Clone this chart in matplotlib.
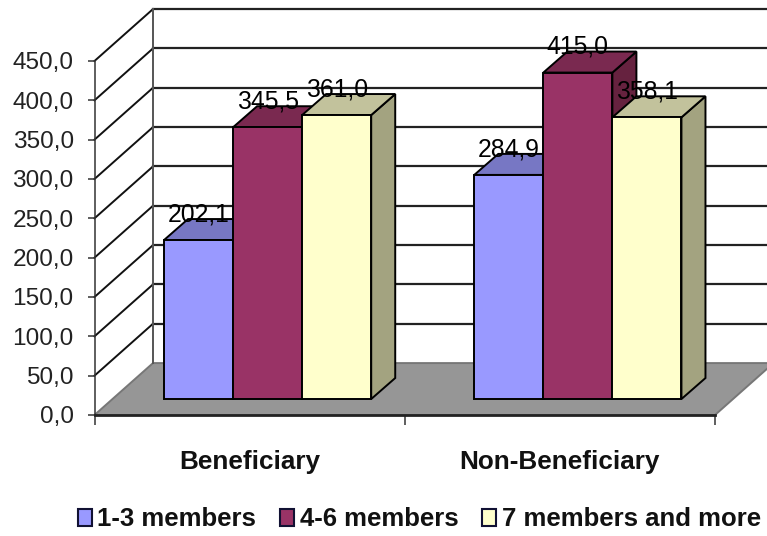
import matplotlib
matplotlib.use("Agg")
import matplotlib.pyplot as plt
from matplotlib.patches import Patch, Polygon

plt.rcParams['font.family'] = ['Liberation Sans', 'DejaVu Sans']

groups = ['Beneficiary', 'Non-Beneficiary']
series = ['1-3 members', '4-6 members', '7 members and more']
beneficiary = [202.1, 345.5, 361.0]
non_beneficiary = [284.9, 415.0, 358.1]
y_ticks = [0, 50, 100, 150, 200, 250, 300, 350, 400, 450]

front = ['#9999FF', '#993366', '#FFFFCC']
top = ['#7777C4', '#7A2950', '#C2C29C']
side = ['#66669F', '#66223F', '#A3A380']

W, H = 767, 536
fig = plt.figure(figsize=(W / 100, H / 100), dpi=100)
ax = fig.add_axes([94.5 / W, (H - 415) / H, 620.5 / W, 354 / H])
ax.set_xlim(0, 2)
ax.set_ylim(0, 450)
ax.patch.set_visible(False)

# oblique offsets of the chart box and of the bars, in axis units
wall_dx, wall_dy = 0.1885, 66
bar_dx, bar_dy = 0.0774, 26.7
shift_x, shift_y = 0.058, 20.3
bar_w = 0.2226


def poly(pts, fc, ec='black', lw=1.4, z=2):
    ax.add_patch(Polygon(pts, closed=True, fc=fc, ec=ec, lw=lw, zorder=z,
                         clip_on=False, joinstyle='miter'))


# floor
poly([(0, 0), (2, 0), (2 + wall_dx, wall_dy), (wall_dx, wall_dy)], '#969696', ec='#777777', z=1)

# walls and gridlines
for v in y_ticks:
    if v > 0:
        ax.plot([0, wall_dx], [v, v + wall_dy], color='#111111', lw=1.4, clip_on=False, zorder=1)
        ax.plot([wall_dx, 2 + wall_dx], [v + wall_dy] * 2, color='#222222', lw=1.6, clip_on=False, zorder=1)
ax.plot([wall_dx, wall_dx], [wall_dy, 450 + wall_dy], color='#555555', lw=1.4, clip_on=False, zorder=1)

# bars, left to right so neighbours overlap properly
z = 3
for g, vals in enumerate([beneficiary, non_beneficiary]):
    for j, v in enumerate(vals):
        x0 = g + 0.5 + (j - 1.5) * bar_w + shift_x
        x1 = x0 + bar_w
        y0 = shift_y
        y1 = shift_y + v
        poly([(x1, y0), (x1 + bar_dx, y0 + bar_dy), (x1 + bar_dx, y1 + bar_dy), (x1, y1)], side[j], z=z)
        poly([(x0, y1), (x1, y1), (x1 + bar_dx, y1 + bar_dy), (x0 + bar_dx, y1 + bar_dy)], top[j], z=z)
        poly([(x0, y0), (x1, y0), (x1, y1), (x0, y1)], front[j], z=z)
        z += 1

for g, vals in enumerate([beneficiary, non_beneficiary]):
    for j, v in enumerate(vals):
        xc = g + 0.5 + (j - 1) * bar_w + shift_x
        ax.annotate(f'{v:.1f}'.replace('.', ','), (xc, shift_y + v), xytext=(0, 18.5),
                    textcoords='offset points', ha='center', va='center',
                    fontsize=17.8, color='black', zorder=50)

for s in ['top', 'right']:
    ax.spines[s].set_visible(False)
ax.spines['left'].set_linewidth(1.1)
ax.spines['left'].set_color('#333333')
ax.spines['bottom'].set_linewidth(2)
ax.spines['bottom'].set_color('#222222')
ax.spines['bottom'].set_zorder(2.5)

ax.set_yticks(y_ticks)
ax.set_yticklabels([f'{v:.1f}'.replace('.', ',') for v in y_ticks], fontsize=17.6, color='#222222')
ax.tick_params(axis='y', length=5, width=1.1, pad=10, color='#333333')
ax.set_xticks([0, 1, 2])
ax.set_xticklabels([])
ax.tick_params(axis='x', which='major', length=7.5, width=1.1, color='#333333')
ax.set_xticks([0.5, 1.5], minor=True)
ax.set_xticklabels(groups, minor=True, fontsize=18.8, fontweight='bold', color='#111111')
ax.tick_params(axis='x', which='minor', length=0, pad=25)

handles = [Patch(fc=front[i], ec='#111133', lw=1.5, label=series[i]) for i in range(3)]
fig.legend(handles=handles, loc='lower left', bbox_to_anchor=(70 / W, -3 / H), ncol=3, frameon=False,
           prop={'size': 18.5, 'weight': 'bold'}, handlelength=0.55, handleheight=0.62,
           handletextpad=0.22, columnspacing=0.92, borderpad=0.2, borderaxespad=0.1,
           labelcolor='#111111')

fig.savefig('out.png', dpi=100)
